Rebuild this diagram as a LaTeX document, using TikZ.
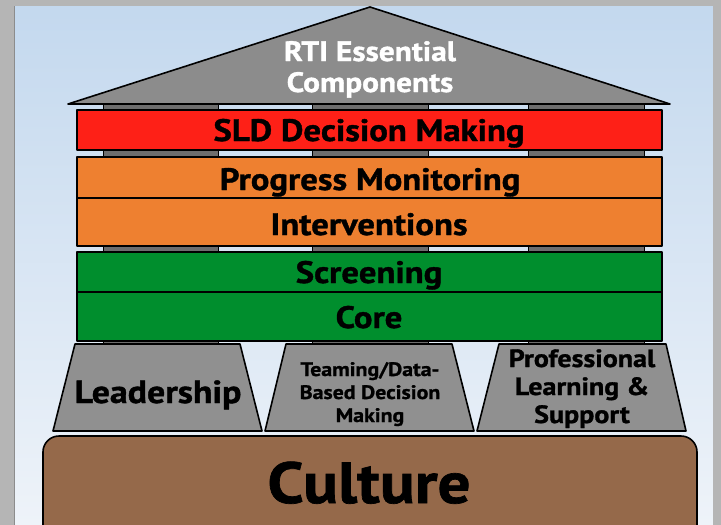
\documentclass[tikz,border=0pt]{standalone}
\usepackage{fontspec}
\setmainfont[BoldFeatures={FakeBold=1.2, FakeStretch=1.12}]{PT Sans}
\definecolor{bgtop}{HTML}{C3D8EE}
\definecolor{bgbot}{HTML}{EEF3F9}
\definecolor{frame}{HTML}{B5B5B5}
\definecolor{roofgray}{HTML}{8C8C8C}
\definecolor{pillargray}{HTML}{6E6E6E}
\definecolor{sldred}{HTML}{FE2017}
\definecolor{pmorange}{HTML}{EE8030}
\definecolor{scgreen}{HTML}{008E2D}
\definecolor{trapgray}{HTML}{909090}
\definecolor{brown}{HTML}{95694A}
\tikzset{
  outl/.style={draw=black, line width=1.6pt, line join=round},
  band/.style={outl, inner sep=0pt, minimum width=585pt},
  pillar/.style={draw=black, line width=1pt, fill=pillargray},
  lbl/.style={inner sep=0pt, anchor=base, text=black},
  bandtxt/.style={lbl, font=\bfseries\fontsize{31}{33}\selectfont}
}
\begin{document}
\begin{tikzpicture}[x=1pt,y=-1pt]
\useasboundingbox (0,0) rectangle (721,525);
\begin{scope}
\clip (0,0) rectangle (721,525);
% background and frame
\shade[top color=bgtop, bottom color=bgbot] (0,0) rectangle (721,525);
\fill[frame] (0,0) rectangle (721,6);
\fill[frame] (0,0) rectangle (14,525);
\draw[black!45, line width=0.8pt] (14,6) -- (14,525);
\fill[frame] (713,0) rectangle (721,525);
% pillars behind
\draw[pillar] (103,104) rectangle (218,344);
\draw[pillar] (312,104) rectangle (428,344);
\draw[pillar] (528,104) rectangle (644,344);
% roof
\draw[outl, fill=roofgray] (68,104) -- (370,7) -- (670,104) -- cycle;
\node[lbl, text=white, font=\bfseries\fontsize{28}{32}\selectfont] (roof1) at (370,61) {RTI Essential};
\node[lbl, text=white, font=\bfseries\fontsize{28}{32}\selectfont] (roof2) at (370,92) {Components};
% bands
\node[band, fill=sldred, minimum height=40pt] (sld) at (369.5,130) {};
\node[band, fill=pmorange, minimum height=41pt] (pm) at (369.5,177.5) {};
\node[band, fill=pmorange, minimum height=48pt] (int) at (369.5,222) {};
\node[band, fill=scgreen, minimum height=40pt] (scr) at (369.5,272) {};
\node[band, fill=scgreen, minimum height=49pt] (core) at (369.5,316.5) {};
\node[bandtxt] (sldt) at (369,141) {SLD Decision Making};
\node[bandtxt] (pmt) at (370,190) {Progress Monitoring};
\node[bandtxt] (intt) at (369,235) {Interventions};
\node[bandtxt] (scrt) at (369,283) {Screening};
\node[bandtxt] (coret) at (369,328) {Core};
% trapezoids
\draw[outl, fill=trapgray] (75,344) -- (240,344) -- (262,431) -- (53,431) -- cycle;
\draw[outl, fill=trapgray] (286,344) -- (452,344) -- (474,431) -- (265,431) -- cycle;
\draw[outl, fill=trapgray] (499,344) -- (666,344) -- (686,431) -- (477,431) -- cycle;
\node[lbl, font=\bfseries\fontsize{32}{34}\selectfont] (lead) at (158,403) {Leadership};
\node[lbl, font=\bfseries\fontsize{19.5}{22}\selectfont] (team1) at (370,376) {Teaming/Data-};
\node[lbl, font=\bfseries\fontsize{19.5}{22}\selectfont] (team2) at (370,399) {Based Decision};
\node[lbl, font=\bfseries\fontsize{19.5}{22}\selectfont] (team3) at (370,422) {Making};
\node[lbl, font=\bfseries\fontsize{25}{28}\selectfont] (prof1) at (582,367) {Professional};
\node[lbl, font=\bfseries\fontsize{25}{28}\selectfont] (prof2) at (582,395) {Learning \&};
\node[lbl, font=\bfseries\fontsize{25}{28}\selectfont] (prof3) at (582,423) {Support};
% culture
\draw[outl, fill=brown, rounded corners=16pt] (43,436) rectangle (697,570);
\node[lbl, font=\bfseries\fontsize{58}{60}\selectfont] (culture) at (369,503) {Culture};
\end{scope}
\end{tikzpicture}
\end{document}
